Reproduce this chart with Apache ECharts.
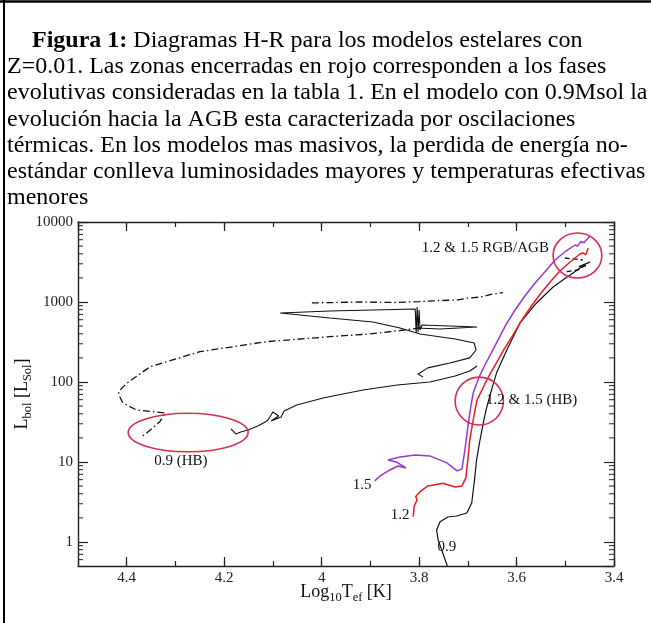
<!DOCTYPE html>
<html><head><meta charset="utf-8">
<script src="https://cdn.jsdelivr.net/npm/echarts@6/dist/echarts.min.js"></script>
<style>html,body{margin:0;padding:0;background:#fff}#c{width:651px;height:623px}</style>
</head><body><div id="c"></div>
<script>
// ---------- axis ranges & ticks ----------
const xMin = 3.4, xMax = 4.5;
const yMin = 0.5, yMax = 10000;
const yMinorTicks = [0.6,0.7,0.8,0.9,2,3,4,5,6,7,8,9,20,30,40,50,60,70,80,90,200,300,400,500,600,700,800,900,2000,3000,4000,5000,6000,7000,8000,9000];

// ---------- caption ----------
const captionLabel = 'Figura 1:';
const captionLines = [
  'Diagramas H-R para los modelos estelares con',
  'Z=0.01. Las zonas encerradas en rojo corresponden a los fases',
  'evolutivas consideradas en la tabla 1. En el modelo con 0.9Msol la',
  'evolución hacia la AGB esta caracterizada por oscilaciones',
  'térmicas. En los modelos mas masivos, la perdida de energía no-',
  'estándar conlleva luminosidades mayores y temperaturas efectivas',
  'menores'
];

// ---------- tracks [log10 Tef, L/Lsun] ----------
const track09_rgb = [[3.742,0.5],[3.761,1.06],[3.764,1.41],[3.757,1.79],[3.741,2.05],[3.723,2.11],[3.702,2.30],[3.692,3.07],[3.687,5.46],[3.682,10.6],[3.675,18.8],[3.667,33.5],[3.661,48.7],[3.657,59.6],[3.650,85],[3.641,130],[3.620,251],[3.593,547],[3.559,972],[3.525,1540],[3.505,1884],[3.484,2305],[3.470,2661],[3.458,2850],[3.472,2780],[3.452,3100]];
const track09_hb = [[4.186,25.9],[4.176,22.4],[4.166,23.7],[4.151,25.1],[4.131,28.2],[4.116,31.6],[4.110,33.5],[4.100,42.2],[4.088,37.6],[4.104,32.5],[4.083,36.5],[4.077,43.4],[4.051,51.6],[3.997,63.1],[3.915,79.4],[3.845,91.7],[3.778,100],[3.726,119],[3.696,137],[3.681,158]];
const track09_agb = [[3.792,115],[3.802,126],[3.782,150],[3.737,173],[3.696,200],[3.683,251],[3.687,307],[3.726,345],[3.798,398],[3.839,473],[3.895,562],[3.983,631],[4.085,729],[3.983,772],[3.808,818],[3.806,410],[3.804,866],[3.802,422],[3.800,794],[3.798,447],[3.794,516],[3.737,501],[3.681,487],[3.757,460],[3.806,473]];
const track09_ddLow = [[3.798,473],[3.839,440],[3.901,398],[3.983,368],[4.113,319],[4.250,239],[4.352,155],[4.400,96.3],[4.417,75.6],[4.414,64.9],[4.408,54.6],[4.380,44.7],[4.346,42.5],[4.321,41.0],[4.332,31.9],[4.359,23.0],[4.369,20.7]];
const track09_ddUp = [[4.020,972],[3.921,1000],[3.850,985],[3.800,1010],[3.760,1040],[3.720,1060],[3.700,1120],[3.675,1150],[3.650,1250],[3.628,1307]];
const track09_tipA = [[3.501,3548],[3.464,3350]];
const track09_tipB = [[3.497,2393],[3.474,2512],[3.449,3190]];
const track12 = [[3.812,2.07],[3.810,2.82],[3.804,3.35],[3.807,3.70],[3.798,4.25],[3.782,5.01],[3.751,5.42],[3.726,4.87],[3.712,5.01],[3.704,6.31],[3.700,10.6],[3.696,18.8],[3.689,33.5],[3.681,59.6],[3.671,79.4],[3.661,106],[3.650,141],[3.638,188],[3.624,266],[3.607,387],[3.589,596],[3.568,917],[3.548,1334],[3.531,1778],[3.511,2441],[3.490,3162],[3.470,3981],[3.464,4100],[3.458,3900],[3.453,4732]];
const track15 = [[3.891,5.79],[3.880,6.68],[3.860,7.94],[3.843,8.91],[3.827,8.41],[3.847,10.0],[3.864,10.6],[3.839,11.5],[3.808,12.2],[3.778,11.9],[3.743,9.72],[3.722,7.72],[3.712,8.18],[3.706,14.1],[3.700,27.4],[3.694,48.7],[3.689,72.9],[3.683,91.7],[3.675,122],[3.665,163],[3.652,230],[3.638,335],[3.622,516],[3.603,794],[3.583,1189],[3.562,1728],[3.542,2371],[3.521,3350],[3.501,4217],[3.480,5157],[3.475,5000],[3.468,5700],[3.462,5500],[3.449,6683]];

// ---------- annotation ellipses [T1, T2, L1, L2] ----------
const zones = [[4.397,4.151,13.4,40.6],[3.726,3.627,29.0,115],[3.525,3.425,1995,7290]];
// ---------- annotation texts (centre in data space) ----------
const noteTexts = ['1.2 & 1.5 RGB/AGB','1.2 & 1.5 (HB)','0.9 (HB)','1.5','1.2','0.9'];
const notePos = [[3.664,4732],[3.569,59.6],[4.289,10.3],[3.917,5.16],[3.839,2.18],[3.743,0.866]];

const SERIF = '"Liberation Serif","Times New Roman",serif';
const chart = echarts.init(document.getElementById('c'));

function lineSeries(data, color, width, type){
  return {type:'line', data:data, showSymbol:false, symbol:'none', silent:true, animation:false,
    lineStyle:{color:color, width:width, type:type||'solid'}, z:3};
}
const DD = [7,3,1.5,3];

const xCommon = {type:'value', min:xMin, max:xMax, inverse:true, splitLine:{show:false}, axisLine:{onZero:false}};
const yCommon = {type:'log', logBase:10, min:yMin, max:yMax, splitLine:{show:false}, minorTick:{show:false}, axisLine:{onZero:false}};
const axisLineStyle = {color:'#222', width:1.4};
const nameRich = {m:{fontFamily:SERIF,fontSize:18,color:'#111',lineHeight:24,verticalAlign:'middle'},
                  s:{fontFamily:SERIF,fontSize:12.5,color:'#111',lineHeight:24,verticalAlign:'bottom'}};

const CAP_FONT = '24px '+SERIF;
const graphics = [
  {type:'line', shape:{x1:0,y1:1.5,x2:651,y2:1.5}, style:{stroke:'#000',lineWidth:2.5}},
  {type:'line', shape:{x1:4,y1:0,x2:4,y2:623}, style:{stroke:'#000',lineWidth:2}},
  {type:'text', x:32, y:41, style:{text:'{b|'+captionLabel+'} '+captionLines[0], font:CAP_FONT, fill:'#000', verticalAlign:'middle', rich:{b:{font:'bold 24px '+SERIF, fill:'#000'}}}}
];
for (let i=1;i<captionLines.length;i++){
  graphics.push({type:'text', x:7, y:41+i*26.1, style:{text:captionLines[i], font:CAP_FONT, fill:'#000', verticalAlign:'middle'}});
}

chart.setOption({
  animation:false,
  backgroundColor:'#fff',
  grid:{left:78, right:37, top:222, bottom:57, containLabel:false, outerBoundsMode:'none'},
  graphic:graphics,
  xAxis:[
    Object.assign({}, xCommon, {position:'bottom', interval:0.2,
      axisLine:{onZero:false, lineStyle:axisLineStyle},
      axisTick:{inside:true, length:9, lineStyle:{color:'#222',width:1.2}},
      axisLabel:{showMaxLabel:false, color:'#222', fontFamily:SERIF, fontSize:15, margin:5,
        formatter:function(v){ return Math.abs(v-xMax)<1e-6 ? '' : String(+v.toFixed(1)); }},
      name:'{m|Log}{s|10}{m|T}{s|ef}{m| [K]}', nameLocation:'middle', nameGap:14, nameMoveOverlap:false,
      nameTextStyle:{rich:nameRich}}),
    Object.assign({}, xCommon, {position:'bottom', interval:0.1, axisLine:{show:false,onZero:false},
      axisTick:{inside:true, length:5, lineStyle:{color:'#222',width:1.2}}, axisLabel:{show:false}}),
    Object.assign({}, xCommon, {position:'top', interval:0.2,
      axisLine:{onZero:false, lineStyle:axisLineStyle},
      axisTick:{inside:true, length:9, lineStyle:{color:'#222',width:1.2}}, axisLabel:{show:false}}),
    Object.assign({}, xCommon, {position:'top', interval:0.1, axisLine:{show:false,onZero:false},
      axisTick:{inside:true, length:5, lineStyle:{color:'#222',width:1.2}}, axisLabel:{show:false}})
  ],
  yAxis:[
    Object.assign({}, yCommon, {position:'left',
      axisLine:{onZero:false, lineStyle:axisLineStyle},
      axisTick:{inside:true, length:10, lineStyle:{color:'#222',width:1.2}},
      axisLabel:{showMinLabel:false, color:'#222', fontFamily:SERIF, fontSize:15, margin:5,
        formatter:function(v){ return v < 0.99 ? '' : String(Math.round(v)); }},
      name:'{m|L}{s|bol}{m| [L}{s|Sol}{m|]}', nameLocation:'middle', nameGap:44, nameMoveOverlap:false,
      nameTextStyle:{rich:nameRich}}),
    Object.assign({}, yCommon, {position:'right',
      axisLine:{onZero:false, lineStyle:axisLineStyle},
      axisTick:{inside:true, length:10, lineStyle:{color:'#222',width:1.2}}, axisLabel:{show:false}})
  ],
  series:[
    lineSeries(track09_rgb,'#111',1.2),
    lineSeries(track09_hb,'#111',1.1),
    lineSeries(track09_agb,'#111',1.1),
    lineSeries(track09_ddLow,'#111',1.3,DD),
    lineSeries(track09_ddUp,'#111',1.3,DD),
    lineSeries(track09_tipA,'#111',1.3,[5,3]),
    lineSeries(track09_tipB,'#111',1.3,[5,3]),
    lineSeries(track12,'#ee1b24',1.5),
    lineSeries(track15,'#9736d8',1.5),
    {type:'custom', silent:true, animation:false, clip:false, z:2,
      data: yMinorTicks.map(function(v){ return [xMax, v]; }),
      renderItem:function(params, api){
        const cs = params.coordSys;
        const y = api.coord([xMax, api.value(1)])[1];
        return {type:'group', children:[
          {type:'line', shape:{x1:cs.x, y1:y, x2:cs.x+5, y2:y}, style:{stroke:'#222', lineWidth:1}},
          {type:'line', shape:{x1:cs.x+cs.width, y1:y, x2:cs.x+cs.width-5, y2:y}, style:{stroke:'#222', lineWidth:1}}
        ]};
      }},
    {type:'custom', silent:true, animation:false, z:4,
      data: zones, encode:{x:[0,1], y:[2,3]},
      renderItem:function(params, api){
        const p1 = api.coord([api.value(0), api.value(2)]);
        const p2 = api.coord([api.value(1), api.value(3)]);
        return {type:'ellipse', shape:{cx:(p1[0]+p2[0])/2, cy:(p1[1]+p2[1])/2, rx:Math.abs(p2[0]-p1[0])/2, ry:Math.abs(p2[1]-p1[1])/2},
          style:{fill:null, stroke:'#d4314d', lineWidth:1.6}};
      }},
    {type:'custom', silent:true, animation:false, z:5,
      data: notePos.map(function(p,i){ return [p[0], p[1], i]; }),
      renderItem:function(params, api){
        const p = api.coord([api.value(0), api.value(1)]);
        return {type:'text', x:p[0], y:p[1], style:{text:noteTexts[api.value(2)], font:'15px '+SERIF, fill:'#111', align:'center', verticalAlign:'middle'}};
      }}
  ]
});
</script></body></html>
